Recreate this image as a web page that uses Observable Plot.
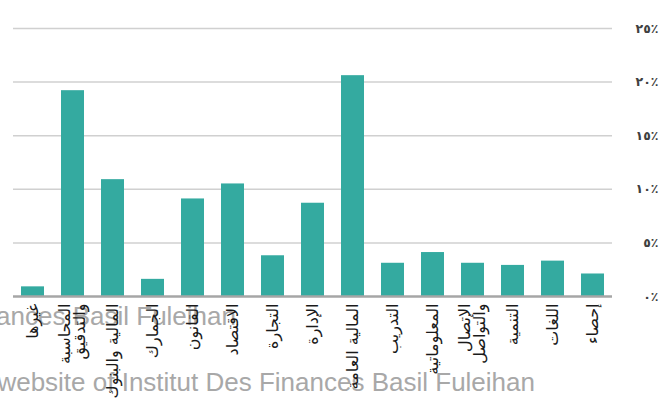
<!DOCTYPE html>
<html><head><meta charset="utf-8">
<script src="https://cdn.jsdelivr.net/npm/d3@7"></script>
<script src="https://cdn.jsdelivr.net/npm/@observablehq/plot@0.6"></script>
<style>
html,body{margin:0;padding:0;background:#fff;overflow:hidden;}
#wrap{position:relative;width:672px;height:401px;overflow:hidden;}
#chart{position:absolute;left:0;top:0;}
.wm{position:absolute;font-family:"Liberation Sans",Arial,sans-serif;font-size:26px;color:#a8a8a8;white-space:nowrap;line-height:1;}
#wm1{right:436px;top:303px;}
#wm2{right:137px;top:369px;}
</style></head><body>
<div id="wrap">
<div class="wm" id="wm1">Finances Basil Fuleihan</div>
<div class="wm" id="wm2">website of Institut Des Finances Basil Fuleihan</div>
<div id="chart"></div>
</div>
<script>
const categories = ["غيرها", "المحاسبة\nوالتدقيق", "المالية والبنوك", "الجمارك", "القانون", "الاقتصاد", "التجارة", "الإدارة", "المالية العامة", "التدريب", "المعلوماتية", "الإتصال\nوالتواصل", "التنمية", "اللغات", "إحصاء"];
const values = [0.9, 19.2, 10.9, 1.6, 9.1, 10.5, 3.8, 8.7, 20.6, 3.1, 4.1, 3.1, 2.9, 3.3, 2.1];
const yTicks = [0, 5, 10, 15, 20, 25];
const yTickLabels = ["٠٪", "٥٪", "١٠٪", "١٥٪", "٢٠٪", "٢٥٪"];

const data = categories.map((c, i) => ({category: c, value: values[i]}));

const chart = Plot.plot({
  width: 672,
  height: 401,
  marginTop: 28,
  marginBottom: 105,
  marginLeft: 13,
  marginRight: 60,
  style: {fontFamily: "'DejaVu Sans', sans-serif", background: "transparent", overflow: "visible"},
  x: {type: "band", domain: categories, paddingInner: 0.43, paddingOuter: 0.16, axis: null},
  y: {domain: [0, 25], axis: null, label: null},
  marks: [
    Plot.ruleY(yTicks.slice(1), {stroke: "#d0d0d0", strokeWidth: 1.5}),
    Plot.barY(data, {x: "category", y: "value", fill: "#34aaa0"}),
    Plot.ruleY([0], {stroke: "#a6a6a6", strokeWidth: 2.5}),
    Plot.text(data, {x: "category", y: () => 0, text: "category", rotate: -90, textAnchor: "end", lineAnchor: "middle", lineHeight: 0.95, dy: 7, fontSize: 16, fill: "#1a1a1a"}),
    Plot.axisY({anchor: "right", label: null, ticks: yTicks, tickFormat: d => yTickLabels[yTicks.indexOf(d)], tickSize: 0, tickPadding: 0, textAnchor: "end", dx: 46, fontSize: 12.5, fontWeight: "bold", fill: "#404040"})
  ]
});
document.getElementById("chart").appendChild(chart);
</script>
</body></html>
